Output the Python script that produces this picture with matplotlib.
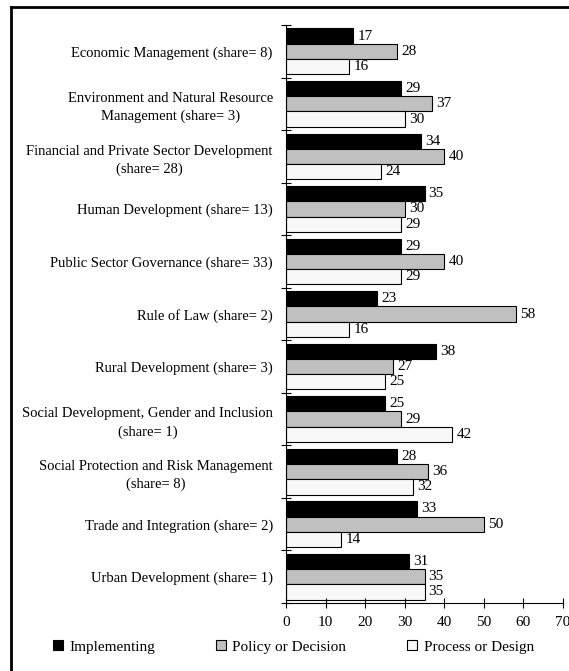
import numpy as np
import matplotlib
matplotlib.use("Agg")
import matplotlib.pyplot as plt
from matplotlib.lines import Line2D

plt.rcParams['font.family'] = ['Liberation Serif', 'DejaVu Serif']
plt.rcParams['font.size'] = 10.5

categories = [
    "Economic Management (share= 8)",
    "Environment and Natural Resource\nManagement (share= 3)",
    "Financial and Private Sector Development\n(share= 28)",
    "Human Development (share= 13)",
    "Public Sector Governance (share= 33)",
    "Rule of Law (share= 2)",
    "Rural Development (share= 3)",
    "Social Development, Gender and Inclusion\n(share= 1)",
    "Social Protection and Risk Management\n(share= 8)",
    "Trade and Integration (share= 2)",
    "Urban Development (share= 1)",
]
implementing = [17, 29, 34, 35, 29, 23, 38, 25, 28, 33, 31]
policy = [28, 37, 40, 30, 40, 58, 27, 29, 36, 50, 35]
process = [16, 30, 24, 29, 29, 16, 25, 42, 32, 14, 35]

series = [
    ("Implementing", implementing, "#000000"),
    ("Policy or Decision", policy, "#c0c0c0"),
    ("Process or Design", process, "#f8f8f8"),
]

fig = plt.figure(figsize=(5.69, 6.71), dpi=100)
ax = fig.add_axes([0.5026, 0.1013, 0.4869, 0.8614])

y = np.arange(len(categories))
h = 0.29
for k, (name, vals, col) in enumerate(series):
    pos = y + (k - 1) * h
    bars = ax.barh(pos, vals, height=h, color=col, edgecolor="black",
                   linewidth=0.8, label=name)
    for b, v in zip(bars, vals):
        ax.annotate(str(v), (b.get_width(), b.get_y() + b.get_height() / 2),
                    xytext=(3, 0), textcoords="offset points",
                    ha="left", va="center", fontsize=11)

ax.set_xlim(0, 70)
ax.set_xticks(range(0, 71, 10))
ax.set_ylim(len(categories) - 0.5, -0.5)

# boundary ticks between groups, labels at group centres
ax.set_yticks(np.arange(-0.5, len(categories), 1.0))
ax.set_yticklabels([])
ax.set_yticks(y, minor=True)
ax.set_yticklabels(categories, minor=True, multialignment="center", linespacing=1.45)
ax.tick_params(axis="y", which="major", direction="inout", length=7, width=0.8)
ax.tick_params(axis="y", which="minor", length=0, pad=9.5)
ax.tick_params(axis="x", direction="inout", length=7, width=0.8, pad=6, labelsize=11)

for s in ("top", "right"):
    ax.spines[s].set_visible(False)
for s in ("left", "bottom"):
    ax.spines[s].set_linewidth(0.8)

handles = [plt.Rectangle((0, 0), 1, 1, facecolor=c, edgecolor="black", linewidth=0.8)
           for _, _, c in series]
fig.legend(handles, [n for n, _, _ in series], loc="center",
           bbox_to_anchor=(0.516, 0.036), ncol=3, frameon=False,
           handlelength=0.65, handleheight=0.65, handletextpad=0.4,
           columnspacing=4.0, fontsize=11)

# frame around the chart
fig.add_artist(Line2D([0.0193, 0.0193], [0.0, 0.9896], color="black", linewidth=2.0))
fig.add_artist(Line2D([0.0193, 1.0], [0.9896, 0.9896], color="black", linewidth=2.0))

fig.savefig("out.png", dpi=100)
